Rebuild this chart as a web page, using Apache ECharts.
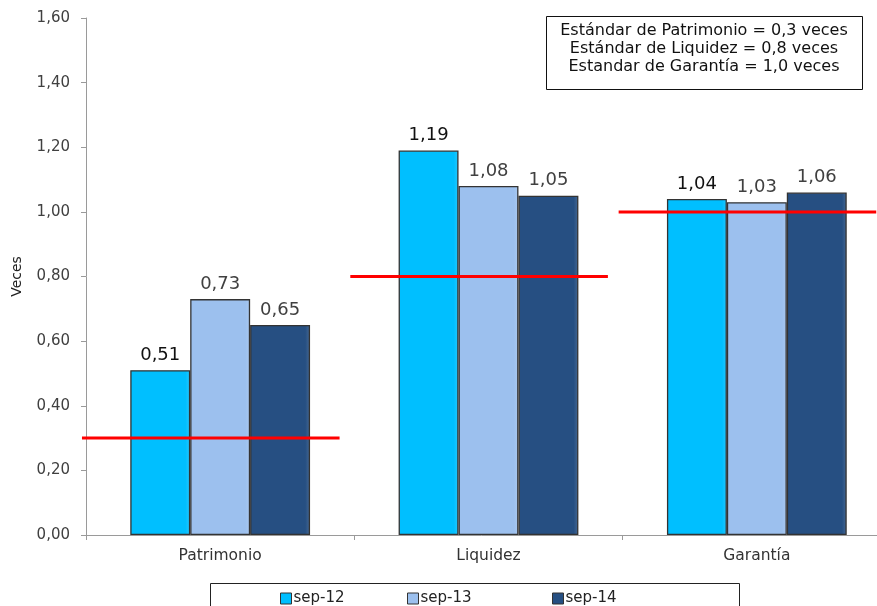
<!DOCTYPE html>
<html><head><meta charset="utf-8">
<script src="https://cdn.jsdelivr.net/npm/echarts@6/dist/echarts.min.js"></script>
<style>html,body{margin:0;padding:0;background:#fff}#c{width:877px;height:606px}</style>
</head><body><div id="c"></div>
<script>
const categories = ['Patrimonio', 'Liquidez', 'Garantía'];
const seriesNames = ['sep-12', 'sep-13', 'sep-14'];
const sep12 = [0.51, 1.19, 1.04];
const sep13 = [0.73, 1.08, 1.03];
const sep14 = [0.65, 1.05, 1.06];
const standards = [0.3, 0.8, 1.0];
const noteLines = ['Estándar de Patrimonio = 0,3 veces', 'Estándar de Liquidez = 0,8 veces', 'Estandar de Garantía = 1,0 veces'];

const FONT = 'DejaVu Sans';
const colors = ['#00BFFF', '#9CC0EE', '#264F82'];
const labelColors = ['#111', '#404040', '#404040'];
const legendLefts = [280, 407, 552];
const fmt = v => v.toFixed(2).replace('.', ',');

function barSeries(name, data, i) {
  return {
    name: name, type: 'bar', data: data, barGap: '0%', barCategoryGap: '33%',
    itemStyle: {
      color: {type: 'linear', x: 0, y: 0, x2: 1, y2: 0, colorStops: [
        {offset: 0, color: colors[i]}, {offset: 0.92, color: colors[i]}, {offset: 1, color: echarts.color.lift(colors[i], 0.15)}]},
      borderColor: '#333', borderWidth: 1.3
    },
    label: {show: true, position: 'top', distance: 6, fontFamily: FONT, fontSize: 18, color: labelColors[i],
      formatter: p => fmt(p.value)}
  };
}

const chart = echarts.init(document.getElementById('c'));
chart.setOption({
  animation: false,
  textStyle: {fontFamily: FONT},
  grid: {left: 86, top: 18, width: 805, height: 517, containLabel: false, outerBoundsMode: 'none'},
  xAxis: {
    type: 'category', data: categories,
    axisLine: {lineStyle: {color: '#9a9a9a', width: 1}},
    axisTick: {show: true, length: 5, lineStyle: {color: '#9a9a9a'}},
    axisLabel: {fontFamily: FONT, fontSize: 15.5, color: '#333', margin: 13}
  },
  yAxis: {
    type: 'value', min: 0, max: 1.6, interval: 0.2,
    name: 'Veces', nameLocation: 'middle', nameRotate: 90, nameGap: 62,
    nameTextStyle: {fontFamily: FONT, fontSize: 14, color: '#222'},
    axisLine: {show: true, lineStyle: {color: '#9a9a9a'}},
    axisTick: {show: true, length: 5, lineStyle: {color: '#9a9a9a'}},
    splitLine: {show: false},
    axisLabel: {fontFamily: FONT, fontSize: 15, color: '#404040', margin: 16, formatter: v => fmt(v)}
  },
  legend: seriesNames.map((n, i) => ({
    data: [n], left: legendLefts[i], top: 591, icon: 'rect', padding: 0,
    itemWidth: 11, itemHeight: 11,
    textStyle: {fontFamily: FONT, fontSize: 15, color: '#222', padding: [0, 0, 0, -3]},
    itemStyle: {borderColor: '#333', borderWidth: 1}
  })),
  graphic: [
    {type: 'rect', left: 208, top: 581, shape: {width: 529, height: 40}, style: {fill: 'none', stroke: '#222', lineWidth: 1}, z: 0},
    {type: 'rect', left: 546, top: 16, shape: {width: 316, height: 73}, style: {fill: '#fff', stroke: '#111', lineWidth: 1}, z: 10},
    {type: 'text', left: 704 - 150, top: 22, z: 11, style: {text: noteLines.join('\n'), width: 300, align: 'center', x: 150, textAlign: 'center', font: '16px "DejaVu Sans"', fill: '#111', lineHeight: 18}}
  ],
  series: [
    barSeries(seriesNames[0], sep12, 0),
    barSeries(seriesNames[1], sep13, 1),
    barSeries(seriesNames[2], sep14, 2),
    {
      type: 'custom', name: 'std', z: 5,
      data: standards.map((v, i) => [i, v]),
      encode: {x: 0, y: 1},
      renderItem: function (params, api) {
        const p = api.coord([api.value(0), api.value(1)]);
        const bw = api.size([1, 0])[0];
        return {type: 'line', shape: {x1: p[0] - 0.515 * bw, y1: p[1], x2: p[0] + 0.445 * bw, y2: p[1]},
          style: {stroke: '#FF0000', lineWidth: 3}};
      }
    }
  ]
});
</script></body></html>
